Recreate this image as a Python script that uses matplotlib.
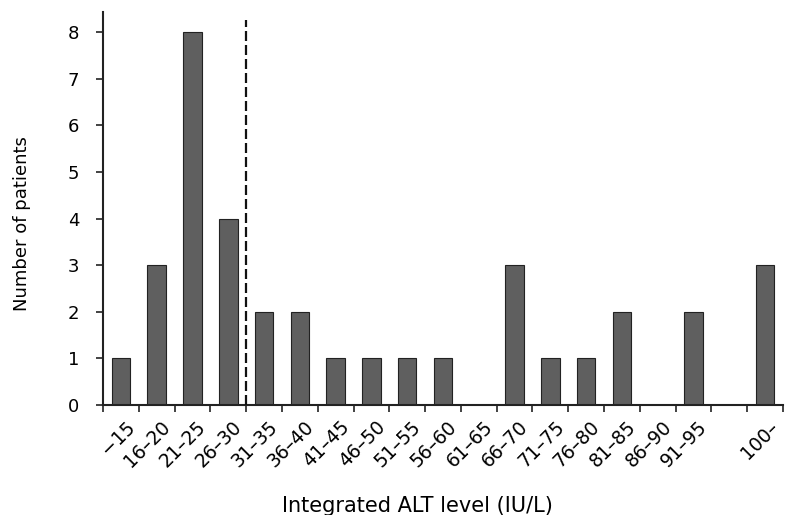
import matplotlib
matplotlib.use("Agg")
import matplotlib.pyplot as plt
import matplotlib.transforms as mtransforms
import numpy as np

categories = ["\u221215", "16\u201320", "21\u201325", "26\u201330", "31\u201335", "36\u201340",
              "41\u201345", "46\u201350", "51\u201355", "56\u201360", "61\u201365", "66\u201370",
              "71\u201375", "76\u201380", "81\u201385", "86\u201390", "91\u201395", "", "100\u2013"]
counts = [1, 3, 8, 4, 2, 2, 1, 1, 1, 1, 0, 3, 1, 1, 2, 0, 2, 0, 3]
y_ticks = [0, 1, 2, 3, 4, 5, 6, 7, 8]
cutoff_edge = 4  # boundary between 26-30 and 31-35

plt.rcParams['font.family'] = ['DejaVu Sans']

fig = plt.figure(figsize=(7.89, 5.15), dpi=100)
ax = fig.add_axes([0.1305, 0.2136, 0.8619, 0.7631])

n = len(categories)
centers = np.arange(n) + 0.5
ax.bar(centers, counts, width=0.52, color='#5f5f5f', edgecolor='#222222', linewidth=0.8, zorder=2)
ax.axvline(cutoff_edge, ymin=0, ymax=0.98, color='#111111', linestyle=(0, (4.5, 1.8)), linewidth=1.6, zorder=3)

ax.set_xlim(0, n)
ax.set_ylim(0, 8.43)

ax.set_xticks(np.arange(n + 1))
ax.set_xticklabels([])
ax.set_xticks(centers, minor=True)
ax.set_xticklabels(categories, minor=True, rotation=45, ha='right', rotation_mode='anchor', fontsize=13.5)
ax.tick_params(axis='x', which='major', direction='out', length=5, width=1.2, color='#222222')
ax.tick_params(axis='x', which='minor', length=0, pad=9)
offset = mtransforms.ScaledTranslation(3 / 72, 0, fig.dpi_scale_trans)
for lbl in ax.get_xticklabels(minor=True):
    lbl.set_transform(lbl.get_transform() + offset)

ax.set_yticks(y_ticks)
ax.set_yticklabels([str(v) for v in y_ticks], fontsize=13)
ax.tick_params(axis='y', direction='out', length=5, width=1.2, pad=12, color='#222222')

for s in ['top', 'right']:
    ax.spines[s].set_visible(False)
for s in ['left', 'bottom']:
    ax.spines[s].set_linewidth(1.5)
    ax.spines[s].set_color('#222222')

ax.set_ylabel("Number of patients", fontsize=13)
ax.set_xlabel("Integrated ALT level (IU/L)", fontsize=15)
ax.xaxis.set_label_coords(0.462, -0.232)
ax.yaxis.set_label_coords(-0.106, 0.462)

fig.savefig("out.png", dpi=100)
